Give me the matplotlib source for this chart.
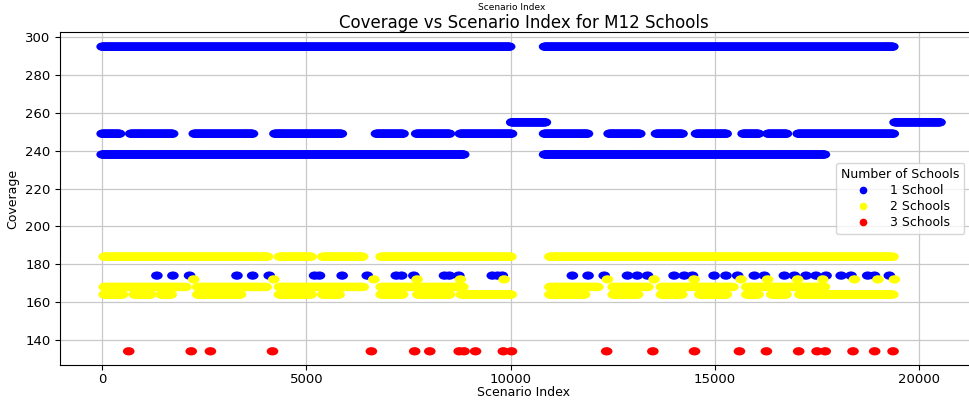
import numpy as np
import matplotlib
matplotlib.use('Agg')
import matplotlib.pyplot as plt
from matplotlib.lines import Line2D
from matplotlib.path import Path
from matplotlib.transforms import Affine2D

# coverage runs: (first index, last index) for each level
blue_295 = [(0, 9980), (10830, 19360)]
blue_255 = [(10025, 10860), (19410, 20520)]
blue_249 = [(0, 440), (700, 1730), (2255, 3690), (4230, 5860), (6715, 7370),
            (7700, 8510), (8770, 10020), (10830, 11880), (12410, 13170),
            (13570, 14210), (14550, 15290), (15690, 16070), (16300, 16760),
            (17040, 19380)]
blue_238 = [(0, 8850), (10830, 17700)]
blue_174 = [1340, 1732, 2140, 3300, 3685, 4090, 5200, 5320, 5875, 6490, 7200,
            7330, 7630, 8380, 8500, 8730, 9550, 9680, 9795, 11510, 11895,
            12290, 12860, 13100, 13350, 14000, 14250, 14450, 14980, 15270,
            15555, 15965, 16210, 16700, 16945, 17230, 17475, 17720, 18090,
            18330, 18740, 18905, 19270]

yellow_184 = [(50, 4060), (4340, 5120), (5400, 6390), (6830, 10020), (10960, 19360)]
yellow_172 = [2240, 4200, 6650, 7710, 8770, 9840, 12370, 13510, 14490, 15640,
              16290, 17025, 17640, 18415, 18990, 19395]
yellow_168 = [(50, 2060), (2340, 4020), (4340, 6390), (6830, 8840),
              (10960, 12150), (12510, 13375), (13690, 15460), (15780, 17700)]
yellow_164 = [(50, 505), (785, 1200), (1440, 1690), (2340, 3410), (4340, 5120),
              (5400, 5820), (6830, 7370), (7730, 8510), (8790, 10020),
              (10960, 11820), (12510, 13130), (13690, 14190), (14630, 15290),
              (15780, 16070), (16390, 16760), (17080, 19360)]

red_134 = [650, 2180, 2650, 4170, 6590, 7650, 8020, 8740, 8860, 9140, 9820,
           10020, 12350, 13480, 14500, 15600, 16260, 17050, 17500, 17700,
           18380, 18910, 19360]


def expand(runs, value, step=25):
    xs = np.concatenate([np.arange(a, b + 1, step) for a, b in runs])
    return xs, np.full(len(xs), value)


def single(idx, value):
    return np.array(idx), np.full(len(idx), value)


# slightly wide marker, the source picture is stretched sideways
oval = Path.unit_circle().transformed(Affine2D().scale(1.4, 1.0))

fig = plt.figure(figsize=(9.69, 4.01), dpi=100)
ax = fig.add_axes([0.062, 0.09, 0.957, 0.83])

blue = [expand(blue_295, 295), expand(blue_255, 255), expand(blue_249, 249),
        expand(blue_238, 238), single(blue_174, 174)]
yellow = [expand(yellow_184, 184), single(yellow_172, 172),
          expand(yellow_168, 168), expand(yellow_164, 164)]
red = [single(red_134, 134)]

for group, col in [(blue, 'blue'), (yellow, 'yellow'), (red, 'red')]:
    x = np.concatenate([g[0] for g in group])
    y = np.concatenate([g[1] for g in group])
    ax.scatter(x, y, s=70, marker=oval, color=col, edgecolors='none')

ax.set_xlim(-1030, 21670)
ax.set_ylim(126.8, 302.7)
ax.set_yticks(np.arange(140, 301, 20))
ax.set_xticks([0, 5000, 10000, 15000, 20000])
ax.grid(True, color='#c8c8c8', linewidth=0.9)
ax.set_axisbelow(True)
ax.set_xlabel('Scenario Index', fontsize=9, labelpad=0)
ax.set_ylabel('Coverage', fontsize=9)
ax.set_title('Coverage vs Scenario Index for M12 Schools', fontsize=12, pad=3)
ax.tick_params(axis='y', labelsize=9.5)
ax.tick_params(axis='x', labelsize=9.5, pad=2)

handles = [Line2D([], [], marker='o', linestyle='none', color=c, markersize=4.5)
           for c in ['blue', 'yellow', 'red']]
ax.legend(handles, ['1 School', '2 Schools', '3 Schools'], title='Number of Schools',
          loc='center right', bbox_to_anchor=(0.982, 0.5), fontsize=9,
          title_fontsize=9, handletextpad=1.2, borderpad=0.4, labelspacing=0.25)

# fragments of the plot above, cut off in the source image
fig.text(512 / 969, 1 - 8 / 401, 'Scenario Index', fontsize=6.5, ha='center', va='center')
for px, lab in [(93, '0'), (291, '5000'), (495, '10000'), (702, '15000'), (906, '20000')]:
    fig.text(px / 969, 1 + 3 / 401, lab, fontsize=9.5, ha='center', va='center', color='#999999')

plt.savefig('out.png', dpi=100)
